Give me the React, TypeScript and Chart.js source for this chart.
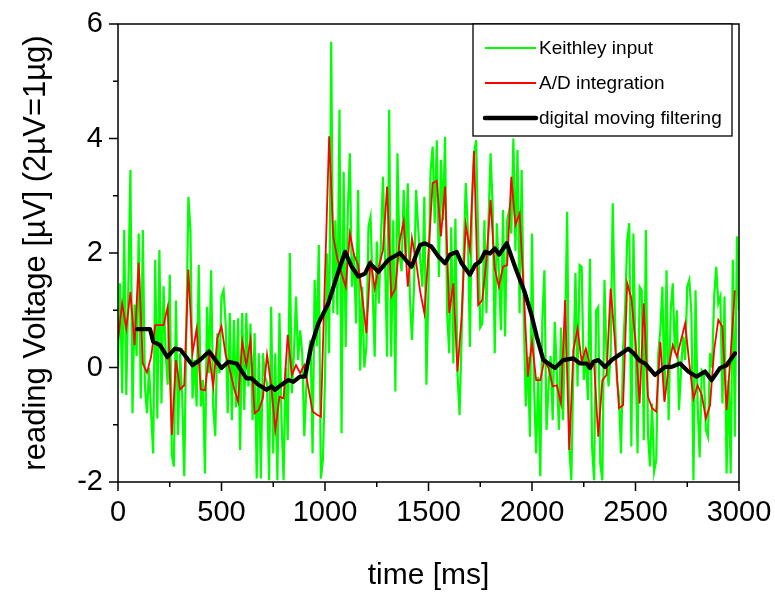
import React, { useEffect, useRef } from 'react';
import { Chart, registerables } from 'chart.js';

Chart.register(...registerables);

const FONT = "'Liberation Sans', Arial, sans-serif";

// Keithley input, sampled every 10 ms from 0 to 3000 ms
const keithleyStepMs = 10;
const keithleyInput = [
  0.0, 1.47, -0.45, 2.4, -0.48, 1.42, 3.45, -0.8, 1.1, 0.2,
  2.34, -0.54, 2.4, -0.33, -0.8, 0.0, -0.8, -1.5, 1.88, -0.89,
  2.05, -0.63, 1.42, 0.25, -0.3, 1.62, -1.53, -1.73, 1.17, -1.18,
  0.25, -0.5, -1.9, 0.6, 2.98, 2.4, -0.54, 0.13, -0.68, 1.79,
  -0.68, -0.22, -1.85, 1.06, -0.1, 1.7, -0.7, -1.2, 0.6, -0.1,
  1.24, 1.35, 0.77, -0.8, 0.95, -0.92, 0.83, -0.7, 0.86, -1.44,
  0.95, -0.74, 0.95, -0.33, 0.77, -0.92, 0.6, -1.94, 0.25, -1.94,
  0.25, -0.16, -0.28, -1.97, 1.06, -1.5, 0.25, -1.97, 0.95, -0.92,
  -1.97, 0.0, -1.27, 2.0, -0.45, 0.25, 1.24, 0.13, 0.65, 0.25,
  -1.2, -0.33, 0.25, 0.48, -1.5, 1.53, 0.37, 2.14, -1.94, -1.6,
  -0.2, 1.99, 0.25, 5.69, 0.95, 2.57, 0.92, 4.5, -1.15, 3.42,
  0.36, 2.7, 3.74, 1.41, 2.0, 0.77, 3.1, -0.05, 1.41, 0.0,
  0.36, 2.45, 2.63, 1.41, 0.19, 2.2, 1.12, 2.2, 3.33, 1.88,
  0.19, 4.5, 0.19, 2.57, -0.42, 3.74, 1.97, 1.68, 3.1, 1.88,
  3.22, 1.24, 0.48, 1.41, 3.1, 2.45, 1.88, 1.41, 2.98, -0.3,
  1.41, 3.42, 3.86, 2.52, 3.97, 1.58, 3.63, 2.57, 4.03, 0.95,
  0.25, 2.45, 0.07, 2.6, -0.1, -0.83, 0.54, 2.0, 3.22, 2.4,
  0.36, 2.9, 3.74, 3.97, 2.28, 0.7, 0.77, 2.57, 0.95, 2.57,
  3.74, 2.8, 0.25, 2.52, 1.7, 0.65, 2.75, 0.54, 2.57, 2.75,
  2.34, 4.0, 2.04, 3.8, 0.95, 3.45, 0.95, -0.68, 0.19, -1.21,
  2.34, -0.33, -1.5, -0.16, -1.9, 0.83, 1.7, -1.09, -0.33, 0.2,
  -0.92, 0.8, -0.1, -1.09, 0.7, -0.92, 0.65, 2.72, -1.38, -1.97,
  0.0, 1.65, -0.33, 1.79, 1.76, -0.22, 0.25, -0.57, 1.9, -1.38,
  -1.97, 1.0, 1.06, -1.68, -1.97, 1.53, 0.19, -0.33, 0.25, 2.87,
  1.0, -0.22, -0.51, -1.5, 0.3, 1.06, 2.23, 2.52, -1.38, 2.34,
  0.25, -1.5, 1.41, 1.35, -1.27, 2.4, -1.15, -1.73, -0.63, -1.82,
  -1.62, 0.25, 0.65, 1.41, -0.57, 1.7, -0.92, 1.0, 1.47, 0.25,
  1.0, -0.74, -0.05, 0.54, 0.13, 1.41, 1.53, 0.95, -1.97, 1.35,
  -0.63, -1.57, -0.05, -0.1, -1.09, -1.21, 0.25, 0.0, 1.24, 1.76,
  1.12, 1.24, -0.63, 1.24, -1.85, -0.22, -1.85, 1.88, -1.21, 2.29,
  1.0,
];

// A/D integration, sampled every 20 ms from 0 to 2980 ms
const adStepMs = 20;
const adIntegration = [
  0.48, 1.12, 0.68, 1.32, 0.39, 1.83, 0.07, -0.09, 0.19, 0.74,
  0.74, 0.74, 1.06, -1.18, 0.13, -0.38, -0.31, 1.71, 0.25, 0.68,
  -0.38, -0.4, 0.22, -0.33, 0.51, 0.72, 0.22, -0.04, -0.35, -0.6,
  0.45, 0.04, 0.48, -0.8, -0.74, -0.54, 0.22, -0.31, -1.09, -0.51,
  -0.54, 0.57, -0.13, 0.04, -0.1, 0.04, -0.36, -0.77, -0.82, -0.86,
  1.6, 4.04, 2.28, 1.9, 1.64, 1.41, 2.34, 1.97, 1.79, 1.24,
  0.6, 1.88, 1.38, 1.76, 2.05, 3.16, 1.24, 1.38, 2.2, 2.55,
  1.41, 2.26, 1.85, 1.32, 0.95, 2.0, 3.22, 3.26, 2.29, 3.16,
  0.95, 1.47, -0.07, 0.89, 2.49, 2.05, 3.78, 1.09, 1.18, 1.88,
  2.93, 1.73, 1.41, 1.76, 1.79, 3.33, 2.49, 2.69, 1.35, -0.16,
  0.45, -0.22, -0.22, 0.13, -0.01, -0.33, -0.31, -0.63, 1.18, -1.44,
  0.31, 0.68, 0.1, 0.33, 0.04, 0.07, -1.21, -0.22, -0.13, 1.38,
  0.48, -0.71, -0.66, 1.47, 1.21, 0.45, -0.63, 1.12, -0.51, -0.71,
  -0.77, 0.45, -0.6, 0.01, 0.39, 0.19, 0.48, 0.77, 0.07, -0.54,
  -0.31, -0.48, -0.89, -0.66, 0.31, 0.83, 0.71, -0.74, 0.25, 1.35,
];

// digital moving filtering
const filterTimes = [
  93, 155, 170, 203, 238, 275, 302, 360, 396, 440,
  477, 500, 533, 573, 621, 645, 678, 718, 742, 758,
  790, 823, 847, 879, 903, 935, 968, 1000, 1016, 1057,
  1097, 1129, 1161, 1193, 1217, 1258, 1306, 1362, 1418, 1459,
  1483, 1515, 1548, 1580, 1604, 1636, 1660, 1700, 1725, 1749,
  1773, 1797, 1821, 1841, 1878, 1918, 1966, 1995, 2023, 2055,
  2111, 2151, 2200, 2232, 2264, 2280, 2296, 2320, 2353, 2385,
  2433, 2465, 2490, 2520, 2546, 2594, 2643, 2675, 2715, 2755,
  2795, 2836, 2868, 2908, 2940, 2981,
];
const filterValues = [
  0.67, 0.67, 0.45, 0.39, 0.18, 0.33, 0.31, 0.04, 0.13, 0.28,
  0.1, -0.01, 0.1, 0.07, -0.19, -0.19, -0.3, -0.39, -0.33, -0.39,
  -0.3, -0.22, -0.25, -0.16, -0.16, 0.39, 0.77, 1.0, 1.12, 1.59,
  2.02, 1.76, 1.59, 1.64, 1.82, 1.67, 1.88, 2.0, 1.76, 2.14,
  2.17, 2.11, 1.94, 1.82, 1.97, 2.02, 1.82, 1.62, 1.79, 1.85,
  2.02, 1.99, 2.08, 1.97, 2.17, 1.76, 1.3, 0.95, 0.54, 0.13,
  -0.01, 0.13, 0.16, 0.07, 0.07, -0.01, 0.1, 0.13, 0.01, 0.13,
  0.25, 0.33, 0.25, 0.12, 0.07, -0.13, 0.01, 0.01, 0.07, -0.07,
  -0.16, -0.07, -0.22, -0.01, 0.04, 0.25,
];

const seriesNames = ['Keithley input', 'A/D integration', 'digital moving filtering'];
const seriesColors = ['#00ff00', '#ff0000', '#000000'];
const xMin = 0;
const xMax = 3000;
const yMin = -2;
const yMax = 6;
const xTitle = 'time [ms]';
const yTitle = 'reading Voltage [\u00b5V] (2\u00b5V=1\u00b5g)';

const framePlugin = {
  id: 'frameAndLegend',
  afterDraw(chart: any) {
    const { ctx, chartArea: a, scales } = chart;
    const xs = scales.x;
    const ys = scales.y;
    ctx.save();
    ctx.strokeStyle = '#000';
    ctx.lineWidth = 1.5;
    ctx.strokeRect(a.left, a.top, a.right - a.left, a.bottom - a.top);
    ctx.beginPath();
    for (let v = xMin; v <= xMax; v += 250) {
      const px = xs.getPixelForValue(v);
      const len = v % 500 === 0 ? 9 : 5;
      ctx.moveTo(px, a.bottom);
      ctx.lineTo(px, a.bottom + len);
    }
    for (let v = yMin; v <= yMax; v += 1) {
      const py = ys.getPixelForValue(v);
      const len = v % 2 === 0 ? 9 : 5;
      ctx.moveTo(a.left, py);
      ctx.lineTo(a.left - len, py);
    }
    ctx.stroke();

    // legend box
    const bx = a.right - 266;
    const by = a.top;
    const bw = 259;
    const bh = 112;
    ctx.fillStyle = '#fff';
    ctx.fillRect(bx, by, bw, bh);
    ctx.lineWidth = 1.3;
    ctx.strokeRect(bx, by, bw, bh);
    const widths = [2, 1.8, 4.5];
    const rows = [24, 59, 94];
    ctx.font = `19px ${FONT}`;
    ctx.textBaseline = 'middle';
    ctx.textAlign = 'left';
    for (let i = 0; i < 3; i++) {
      const yy = by + rows[i];
      ctx.beginPath();
      ctx.strokeStyle = seriesColors[i];
      ctx.lineWidth = widths[i];
      ctx.lineCap = i === 2 ? 'round' : 'butt';
      ctx.moveTo(bx + 12, yy);
      ctx.lineTo(bx + 63, yy);
      ctx.stroke();
      ctx.fillStyle = '#000';
      ctx.fillText(seriesNames[i], bx + 66, yy + 1);
    }
    ctx.restore();
  },
};

export default function App() {
  const ref = useRef<HTMLCanvasElement | null>(null);
  useEffect(() => {
    document.body.style.margin = '0';
    const canvas = ref.current;
    if (!canvas) return;
    const green = keithleyInput.map((v, i) => ({ x: i * keithleyStepMs, y: v }));
    const red = adIntegration.map((v, i) => ({ x: i * adStepMs, y: v }));
    const black = filterTimes.map((t, i) => ({ x: t, y: filterValues[i] }));
    const chart = new Chart(canvas, {
      type: 'line',
      data: {
        datasets: [
          { label: seriesNames[0], data: green, borderColor: seriesColors[0], borderWidth: 2.2, pointRadius: 0, tension: 0, order: 3 },
          { label: seriesNames[1], data: red, borderColor: seriesColors[1], borderWidth: 1.8, pointRadius: 0, tension: 0, order: 2 },
          { label: seriesNames[2], data: black, borderColor: seriesColors[2], borderWidth: 4.2, pointRadius: 0, tension: 0, order: 1, borderJoinStyle: 'round', borderCapStyle: 'round' },
        ],
      },
      options: {
        animation: false,
        responsive: false,
        events: [],
        layout: { padding: { left: 0, top: 24, right: 36, bottom: 0 } },
        plugins: { legend: { display: false }, tooltip: { enabled: false } },
        scales: {
          x: {
            type: 'linear',
            min: xMin,
            max: xMax,
            grid: { display: false, drawTicks: false },
            border: { display: false },
            ticks: {
              stepSize: 500,
              color: '#000',
              font: { family: FONT, size: 29 },
              padding: 14,
              maxRotation: 0,
              autoSkip: false,
              callback: (v: any) => String(v),
            },
            title: { display: true, text: xTitle, color: '#000', font: { family: FONT, size: 30, lineHeight: 1.1 }, padding: { top: 0, bottom: 2 } },
            afterFit: (s: any) => { s.height = 112; s.paddingLeft = 0; s.paddingRight = 0; },
          },
          y: {
            type: 'linear',
            min: yMin,
            max: yMax,
            grid: { display: false, drawTicks: false },
            border: { display: false },
            ticks: {
              stepSize: 2,
              color: '#000',
              font: { family: FONT, size: 29 },
              padding: 15,
              callback: (v: any) => String(v),
            },
            title: { display: true, text: yTitle, color: '#000', font: { family: FONT, size: 31, lineHeight: 1.2 }, padding: { top: 18, bottom: 0 } },
            afterFit: (s: any) => { s.width = 118; s.paddingTop = 0; s.paddingBottom = 0; },
          },
        },
      },
      plugins: [framePlugin],
    } as any);
    return () => chart.destroy();
  }, []);
  return (
    <div style={{ position: 'absolute', left: 0, top: 0, width: 775, height: 594, background: '#fff' }}>
      <canvas ref={ref} width={775} height={594} />
    </div>
  );
}
